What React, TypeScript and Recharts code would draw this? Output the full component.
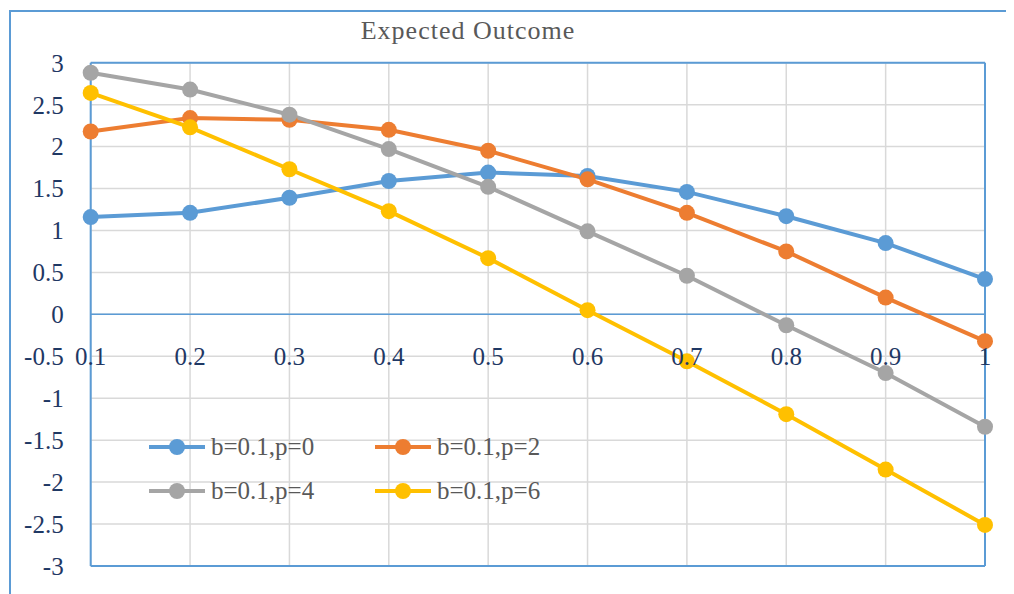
import {
  LineChart,
  Line,
  XAxis,
  YAxis,
  CartesianGrid,
  Legend,
  ReferenceLine,
} from "recharts";

const categories = ["0.1", "0.2", "0.3", "0.4", "0.5", "0.6", "0.7", "0.8", "0.9", "1"];
const p0 = [1.16, 1.21, 1.39, 1.59, 1.69, 1.65, 1.46, 1.17, 0.85, 0.42];
const p2 = [2.18, 2.34, 2.32, 2.2, 1.95, 1.61, 1.21, 0.75, 0.2, -0.32];
const p4 = [2.88, 2.68, 2.38, 1.97, 1.52, 0.99, 0.46, -0.13, -0.7, -1.34];
const p6 = [2.64, 2.23, 1.73, 1.23, 0.67, 0.05, -0.56, -1.19, -1.85, -2.51];
const yTicks = [-3, -2.5, -2, -1.5, -1, -0.5, 0, 0.5, 1, 1.5, 2, 2.5, 3];

const seriesNames = ["b=0.1,p=0", "b=0.1,p=2", "b=0.1,p=4", "b=0.1,p=6"];
const colors = ["#5B9BD5", "#ED7D31", "#A5A5A5", "#FFC000"];

const data = categories.map((x, i) => ({
  x,
  p0: p0[i],
  p2: p2[i],
  p4: p4[i],
  p6: p6[i],
}));

const AXIS_BLUE = "#5B9BD5";
const TICK_COLOR = "#1F3864";
const FONT = "'Liberation Serif', 'Times New Roman', serif";

// x labels sit just under the zero line, like Excel's "axis crosses at 0"
const XTick = (props: any) => {
  const { x, y, payload } = props;
  return (
    <text
      x={x}
      y={y - 210}
      textAnchor="middle"
      dominantBaseline="central"
      fill={TICK_COLOR}
      fontSize={25}
      fontFamily={FONT}
    >
      {payload.value}
    </text>
  );
};

const renderLegend = (props: any) => {
  const { payload } = props;
  return (
    <div style={{ display: "grid", gridTemplateColumns: "226px 226px" }}>
      {payload.map((e: any) => (
        <div
          key={e.value}
          style={{ display: "flex", alignItems: "center", height: 44 }}
        >
          <svg width={56} height={20}>
            <line x1={0} x2={56} y1={10} y2={10} stroke={e.color} strokeWidth={4} />
            <circle cx={28} cy={10} r={8} fill={e.color} />
          </svg>
          <span
            style={{
              marginLeft: 6,
              fontSize: 25,
              color: "#595959",
              fontFamily: FONT,
            }}
          >
            {e.value}
          </span>
        </div>
      ))}
    </div>
  );
};

export default function App() {
  const keys = ["p0", "p2", "p4", "p6"];
  return (
    <div
      style={{
        position: "relative",
        width: 1006,
        height: 586,
        overflow: "hidden",
        fontFamily: FONT,
      }}
    >
      <div
        style={{
          position: "absolute",
          left: 1,
          top: 2,
          width: 1100,
          height: 700,
          border: `2px solid ${AXIS_BLUE}`,
        }}
      />
      <div
        style={{
          position: "absolute",
          left: 0,
          top: 7,
          width: 920,
          textAlign: "center",
          fontSize: 26,
          lineHeight: "32px",
          letterSpacing: 1,
          color: "#595959",
        }}
      >
        Expected Outcome
      </div>
      <div style={{ position: "absolute", left: 0, top: 0 }}>
        <LineChart
          width={1006}
          height={586}
          data={data}
          margin={{ top: 54.7, right: 29, bottom: 0, left: 22.7 }}
        >
          <CartesianGrid stroke="#D9D9D9" strokeWidth={1.5} />
          <XAxis
            dataKey="x"
            height={28}
            tickSize={0}
            tickMargin={0}
            tick={<XTick />}
            axisLine={{ stroke: AXIS_BLUE, strokeWidth: 2 }}
            interval={0}
          />
          <YAxis
            width={60}
            domain={[-3, 3]}
            ticks={yTicks}
            tickSize={0}
            tickMargin={27}
            tick={{ fill: TICK_COLOR, fontSize: 25, fontFamily: FONT }}
            axisLine={{ stroke: AXIS_BLUE, strokeWidth: 2 }}
            interval={0}
          />
          <ReferenceLine y={3} stroke={AXIS_BLUE} strokeWidth={2} />
          <ReferenceLine x="1" stroke={AXIS_BLUE} strokeWidth={2} />
          <ReferenceLine y={0} stroke={AXIS_BLUE} strokeWidth={1.5} />
          <Legend
            verticalAlign="middle"
            align="center"
            layout="horizontal"
            content={renderLegend}
            wrapperStyle={{ left: 141, top: 416.7, width: 460 }}
          />
          {keys.map((k, i) => (
            <Line
              key={k}
              type="linear"
              dataKey={k}
              name={seriesNames[i]}
              stroke={colors[i]}
              strokeWidth={4}
              dot={{ r: 8, fill: colors[i], stroke: colors[i], strokeWidth: 0 }}
              activeDot={false}
              isAnimationActive={false}
            />
          ))}
        </LineChart>
      </div>
    </div>
  );
}
